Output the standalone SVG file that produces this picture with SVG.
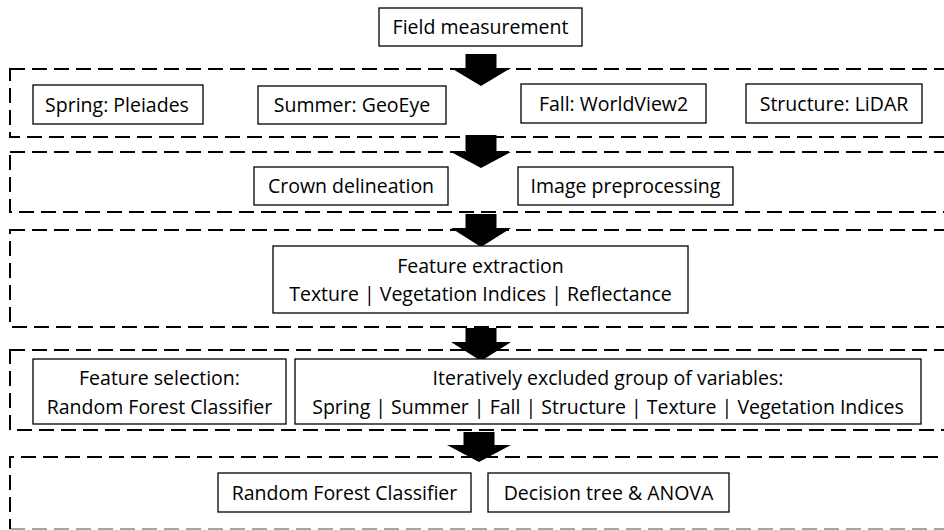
<svg xmlns="http://www.w3.org/2000/svg" width="944" height="530" viewBox="0 0 944 530">
<style>
.region{fill:none;stroke:#000;stroke-width:2;stroke-dasharray:15 7}
.box{fill:#fff;stroke:#000;stroke-width:1.3}
.t{font-family:"Open Sans","Liberation Sans",sans-serif;font-size:19.5px;fill:#000;text-anchor:middle}
.arrow{fill:#000}
</style>
<rect width="944" height="530" fill="#fff"/>
<g id="regions">
<rect class="region" x="10" y="69" width="950" height="68"/>
<rect class="region" x="10" y="152" width="950" height="60"/>
<rect class="region" x="10" y="230" width="950" height="97"/>
<rect class="region" x="10" y="350" width="950" height="80"/>
<path class="region" d="M960,457 H10 V529"/>
<path class="region" d="M10,529 H960" stroke-opacity="0.35"/>
</g>
<g id="connectors">
<polygon class="arrow" points="465.5,54 496.5,54 496.5,68 511,68 481,86 451,68 465.5,68"/>
<polygon class="arrow" points="465.5,135 496.5,135 496.5,152 511,152 481,168 451,152 465.5,152"/>
<polygon class="arrow" points="465.5,214 496.5,214 496.5,228 511,228 481,247 451,228 465.5,228"/>
<polygon class="arrow" points="465.5,328 496.5,328 496.5,342 511,342 481,361 451,342 465.5,342"/>
<polygon class="arrow" points="463.5,432 494.5,432 494.5,445 511,445 479,462 447,445 463.5,445"/>
</g>
<g id="field"><rect class="box" x="379" y="8" width="203" height="38"/><text class="t" x="480.5" y="34">Field measurement</text></g>
<g id="spring"><rect class="box" x="33" y="85" width="170" height="39"/><text class="t" x="117" y="111.5">Spring: Pleiades</text></g>
<g id="summer"><rect class="box" x="258" y="86" width="188" height="38"/><text class="t" x="352" y="111.5">Summer: GeoEye</text></g>
<g id="fall"><rect class="box" x="521" y="84" width="185" height="39"/><text class="t" x="613.5" y="110.5">Fall: WorldView2</text></g>
<g id="structure"><rect class="box" x="746" y="84" width="176" height="39"/><text class="t" x="834" y="110.5">Structure: LiDAR</text></g>
<g id="crown"><rect class="box" x="254" y="167" width="194" height="38"/><text class="t" x="351" y="193">Crown delineation</text></g>
<g id="preproc"><rect class="box" x="518" y="167" width="215" height="38"/><text class="t" x="625.5" y="193">Image preprocessing</text></g>
<g id="extraction"><rect class="box" x="273" y="246" width="415" height="67"/><text class="t" x="480.5" y="273">Feature extraction</text><text class="t" x="480.5" y="301">Texture | Vegetation Indices | Reflectance</text></g>
<g id="selection"><rect class="box" x="33" y="359" width="253" height="65"/><text class="t" x="159.5" y="385">Feature selection:</text><text class="t" x="159.5" y="414">Random Forest Classifier</text></g>
<g id="iterative"><rect class="box" x="295" y="359" width="626" height="65"/><text class="t" x="608" y="385">Iteratively excluded group of variables:</text><text class="t" x="608" y="414">Spring | Summer | Fall | Structure | Texture | Vegetation Indices</text></g>
<g id="rfc"><rect class="box" x="218" y="473" width="253" height="39"/><text class="t" x="344.5" y="499.5">Random Forest Classifier</text></g>
<g id="dtree"><rect class="box" x="488" y="473" width="241" height="39"/><text class="t" x="608.5" y="499.5">Decision tree &amp; ANOVA</text></g>
</svg>
